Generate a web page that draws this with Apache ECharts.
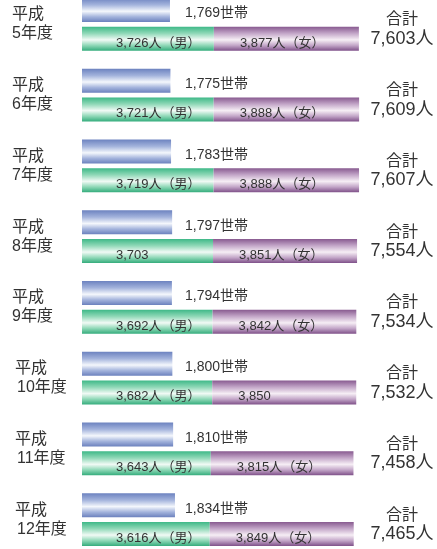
<!DOCTYPE html>
<html><head><meta charset="utf-8">
<script src="https://cdn.jsdelivr.net/npm/echarts@6/dist/echarts.min.js"></script>
<style>html,body{margin:0;padding:0;background:#fff;overflow:hidden;width:437px;height:549px}#c{position:absolute;left:0;top:-11px;width:437px;height:566px}</style>
</head><body><div id="c"></div>
<script>
const years = [5, 6, 7, 8, 9, 10, 11, 12];
const households = [1769, 1775, 1783, 1797, 1794, 1800, 1810, 1834];
const male = [3726, 3721, 3719, 3703, 3692, 3682, 3643, 3616];
const female = [3877, 3888, 3888, 3851, 3842, 3850, 3815, 3849];
const totals = [7603, 7609, 7607, 7554, 7534, 7532, 7458, 7465];
const maleUnit = ['人（男）','人（男）','人（男）','','人（男）','人（男）','人（男）','人（男）'];
const femaleUnit = ['人（女）','人（女）','人（女）','人（女）','人（女）','','人（女）','人（女）'];

const fmt = v => String(v).replace(/\B(?=(\d{3})+(?!\d))/g, ',');
const font = '"Liberation Sans", "Noto Sans CJK JP", sans-serif';
const cats = years.map(String);

function grad(c0, c1, c2, c3) {
  return new echarts.graphic.LinearGradient(0, 0, 0, 1, [
    {offset: 0, color: c0}, {offset: 0.28, color: c1},
    {offset: 0.55, color: c2}, {offset: 0.78, color: c1}, {offset: 1, color: c3}
  ]);
}

const chart = echarts.init(document.getElementById('c'));
chart.setOption({
  backgroundColor: '#fff',
  animation: false,
  textStyle: {fontFamily: font},
  grid: {left: 82, right: 67, top: 0, bottom: 0},
  xAxis: [
    {type: 'value', min: 200, max: 7900, show: false},
    {type: 'value', min: 625, max: 4370, show: false}
  ],
  yAxis: [
    {type: 'category', data: cats, inverse: true,
     axisLine: {show: false}, axisTick: {show: false}, splitLine: {show: false},
     axisLabel: {align: 'left', margin: 70, fontFamily: font,
       formatter: v => Number(v) >= 10
         ? '{p2|平成}\n{q2|' + v + '年度}'
         : '{p|平成}\n{q|' + v + '年度}',
       rich: {
         p: {fontSize: 16, lineHeight: 19, color: '#333', fontFamily: font},
         q: {fontSize: 16, lineHeight: 19, color: '#333', fontFamily: font},
         p2: {fontSize: 16, lineHeight: 19, color: '#333', fontFamily: font, padding: [0, 0, 0, 3]},
         q2: {fontSize: 16, lineHeight: 19, color: '#333', fontFamily: font, padding: [0, 0, 0, 5]}
       }}},
    {type: 'category', data: cats, inverse: true, position: 'right',
     axisLine: {show: false}, axisTick: {show: false}, splitLine: {show: false},
     axisLabel: {align: 'center', margin: 32, padding: [10, 0, 0, 0],
       formatter: (v, i) => '{a|合計}\n{b|' + fmt(totals[i]) + '人}',
       rich: {
         a: {fontSize: 16, lineHeight: 19, color: '#333', fontFamily: font, align: 'center'},
         b: {fontSize: 18, lineHeight: 19, color: '#333', fontFamily: font, align: 'center'}
       }}}
  ],
  series: [
    {name: '世帯', type: 'bar', xAxisIndex: 1, yAxisIndex: 0, data: households,
     barWidth: 24, barGap: '19%',
     itemStyle: {color: grad('#6d83c0', '#a3b3dc', '#f4f7fc', '#6a80bd')},
     label: {show: true, position: [103, 15.5], verticalAlign: 'middle', align: 'left',
       fontSize: 14, color: '#333', fontFamily: font,
       formatter: p => fmt(p.value) + '世帯'}},
    {name: '男', type: 'bar', xAxisIndex: 0, yAxisIndex: 0, stack: 'pop', data: male,
     barWidth: 24, barGap: '19%',
     itemStyle: {color: grad('#3db887', '#8fd8b7', '#f1faf5', '#36ad7d')},
     label: {show: true, position: [34, 16.5], verticalAlign: 'middle', align: 'left',
       fontSize: 13, color: '#333', fontFamily: font,
       formatter: p => fmt(p.value) + maleUnit[p.dataIndex]}},
    {name: '女', type: 'bar', xAxisIndex: 0, yAxisIndex: 0, stack: 'pop', data: female,
     barWidth: 24, barGap: '19%',
     itemStyle: {color: grad('#87598f', '#c3a6c8', '#f6eef5', '#80528a')},
     label: {show: true, position: [26, 16.5], verticalAlign: 'middle', align: 'left',
       fontSize: 13, color: '#333', fontFamily: font,
       formatter: p => fmt(p.value) + femaleUnit[p.dataIndex]}}
  ]
});
</script></body></html>
